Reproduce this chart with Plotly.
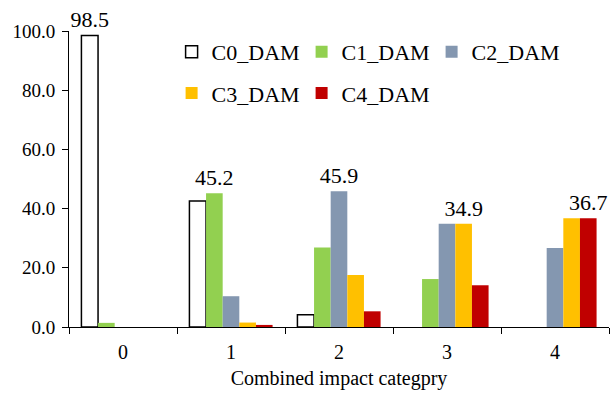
import plotly.graph_objects as go

categories = ["0", "1", "2", "3", "4"]
c0_dam = [98.5, 42.6, 4.1, 0.0, 0.0]
c1_dam = [1.4, 45.2, 26.9, 16.2, 0.0]
c2_dam = [0.0, 10.4, 45.9, 34.9, 26.7]
c3_dam = [0.0, 1.5, 17.6, 34.9, 36.7]
c4_dam = [0.0, 0.7, 5.3, 14.1, 36.7]
# which values get a text label
c0_lbl = [True, False, False, False, False]
c1_lbl = [False, True, False, False, False]
c2_lbl = [False, False, True, False, False]
c3_lbl = [False, False, False, True, False]
c4_lbl = [False, False, False, False, True]
y_ticks = [0, 20, 40, 60, 80, 100]

FONT = "Liberation Serif, Times New Roman, serif"

def labels(vals, flags):
    return [f"{v:.1f}" if f else "" for v, f in zip(vals, flags)]

series = [
    ("C0_DAM", c0_dam, c0_lbl, "white", "black", 1.5, "legend"),
    ("C1_DAM", c1_dam, c1_lbl, "#92D050", None, 0, "legend"),
    ("C2_DAM", c2_dam, c2_lbl, "#8497B0", None, 0, "legend"),
    ("C3_DAM", c3_dam, c3_lbl, "#FFC000", None, 0, "legend2"),
    ("C4_DAM", c4_dam, c4_lbl, "#C00000", None, 0, "legend2"),
]

fig = go.Figure()
for name, vals, flags, col, lcol, lw, lg in series:
    line = dict(width=[lw if v > 0 else 0 for v in vals])
    if lcol:
        line["color"] = lcol
    fig.add_trace(go.Bar(
        x=categories, y=vals, name=name,
        marker=dict(color=col, line=line),
        text=labels(vals, flags), textposition="outside",
        constraintext="none", cliponaxis=False,
        textfont=dict(family=FONT, size=22, color="black"),
        legend=lg,
    ))

legend_common = dict(
    orientation="h", entrywidth=85, entrywidthmode="pixels",
    font=dict(family=FONT, size=22, color="black"),
    bgcolor="rgba(0,0,0,0)", xanchor="left", yanchor="middle",
    itemwidth=30, traceorder="normal",
)

fig.update_layout(
    width=611, height=393,
    margin=dict(l=69, r=2, t=31, b=66, autoexpand=False),
    paper_bgcolor="white", plot_bgcolor="white",
    barmode="group", bargap=0.23, bargroupgap=0,
    font=dict(family=FONT, size=20, color="black"),
    legend=dict(x=0.19, y=0.929, **legend_common),
    legend2=dict(x=0.19, y=0.79, **legend_common),
    xaxis=dict(
        type="category", showline=True, linecolor="black", linewidth=1,
        ticks="outside", tickson="boundaries", ticklen=6, tickcolor="black",
        showgrid=False, tickfont=dict(family=FONT, size=20),
        ticklabelstandoff=7,
        title=dict(text="Combined impact categpry", font=dict(family=FONT, size=20), standoff=8),
    ),
    yaxis=dict(
        range=[0, 100], tickvals=y_ticks, tickformat=".1f",
        showline=True, linecolor="black", linewidth=1,
        ticks="outside", ticklen=6, tickcolor="black", ticklabelstandoff=3,
        showgrid=False, zeroline=False, tickfont=dict(family=FONT, size=19),
    ),
)

fig.write_html(
    "out.html",
    config={"displayModeBar": False},
    post_script="document.body.style.margin='0';document.body.style.overflow='hidden';",
)
